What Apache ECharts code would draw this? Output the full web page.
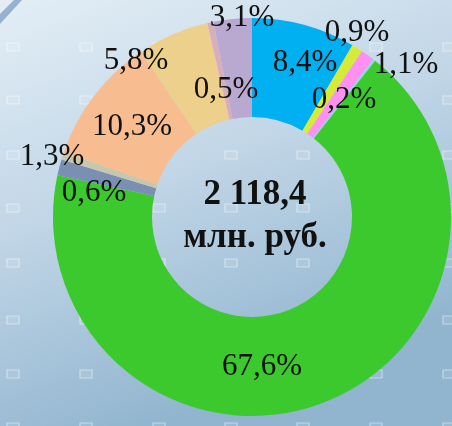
<!DOCTYPE html>
<html>
<head>
<meta charset="utf-8">
<script src="https://cdn.jsdelivr.net/npm/echarts@6/dist/echarts.min.js"></script>
<style>
html,body{margin:0;padding:0;}
#main{width:452px;height:426px;}
</style>
</head>
<body>
<div id="main"></div>
<script>
// Data
var categories = ['s1','s2','s3','s4','s5','s6','s7','s8','s9','s10','s11'];
var values = [8.4, 0.9, 1.1, 0.2, 67.6, 1.3, 0.6, 10.3, 5.8, 0.5, 3.1];
var colors = ['#00b0f0','#d6ea3a','#ff8ff0','#8fd8e4','#3cc92d','#7a8fb2','#c6c8ae','#f7bd90','#ecd08c','#d8aebd','#b9a9d0'];
var totalText = '2 118,4';
var unitText = 'млн. руб.';
// label anchor positions (px)
var labelPos = [[305,63],[357,33],[406,65],[344,100],[262,367],[52,157],[94,193],[132,127],[136,61],[226,90],[242,18]];

var chart = echarts.init(document.getElementById('main'), null, {renderer:'canvas'});

// decorative background squares
var deco = [];
var cols = [13, 86, 159, 231, 303, 376, 449];
var rows = [-6, 47, 100, 155, 208, 263, 320, 374, 427];
rows.forEach(function(y){
  cols.forEach(function(x){
    deco.push({type:'rect', silent:true, z:-10, shape:{x:x-6, y:y-4, width:12, height:8},
      style:{fill:'rgba(255,255,255,0.08)', stroke:'rgba(255,255,255,0.45)', lineWidth:1.2}});
  });
});
deco.push({type:'polygon', silent:true, z:-10, shape:{points:[[0,14],[14,0],[22,0],[0,24]]},
  style:{fill:'rgba(90,130,170,0.55)'}});
deco.push({type:'text', z:10, style:{x:255, y:195, text: totalText, textAlign:'center', textVerticalAlign:'middle',
  font:'bold 35px "Liberation Serif"', fill:'#111'}});
deco.push({type:'text', z:10, style:{x:255, y:238, text: unitText, textAlign:'center', textVerticalAlign:'middle',
  font:'bold 35px "Liberation Serif"', fill:'#111'}});

chart.setOption({
  backgroundColor: {type:'linear', x:0, y:0, x2:0.35, y2:1, colorStops:[
    {offset:0, color:'#e3eef6'},{offset:0.5, color:'#c0d5e6'},{offset:1, color:'#91b5cf'}]},
  animation:false,
  graphic: deco,
  series:[{
    type:'pie',
    center:[252,217],
    radius:[100,199],
    startAngle:90,
    clockwise:true,
    avoidLabelOverlap:false,
    itemStyle:{borderWidth:0},
    label:{show:true, position:'inside', formatter:function(p){return String(p.value).replace('.', ',') + '%';},
      fontFamily:'Liberation Serif', fontSize:31, color:'#111'},
    labelLine:{show:false},
    labelLayout:function(p){
      var q = labelPos[p.dataIndex];
      return {x:q[0], y:q[1], align:'center', verticalAlign:'middle'};
    },
    emphasis:{disabled:true},
    data: categories.map(function(c,i){return {name:c, value:values[i], itemStyle:{color:colors[i]}};})
  }]
});
</script>
</body>
</html>
